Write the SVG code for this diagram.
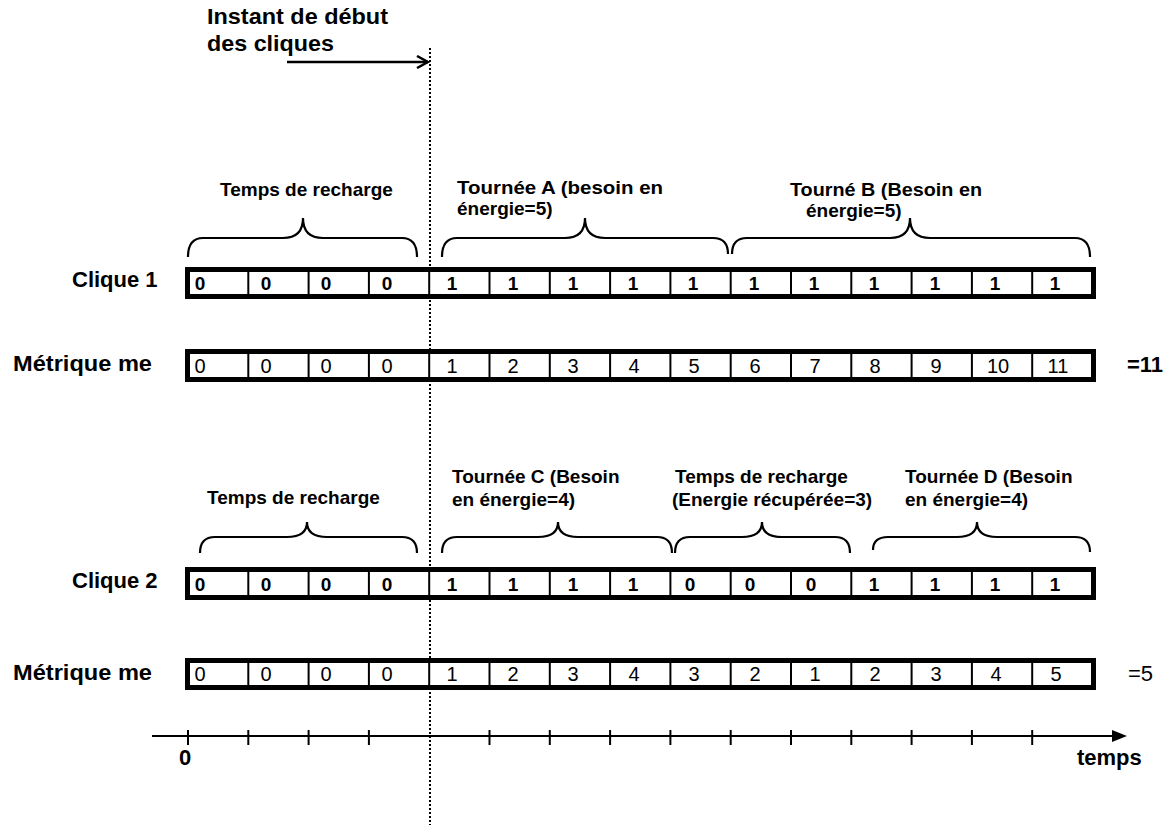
<svg xmlns="http://www.w3.org/2000/svg" width="1170" height="825" viewBox="0 0 1170 825">
<defs>
<style>
.lbl{font-family:"Liberation Sans",Arial,sans-serif;font-weight:bold;font-size:19px;fill:#000}
.big{font-family:"Liberation Sans",Arial,sans-serif;font-weight:bold;font-size:22px;fill:#000}
.dB{font-family:"Liberation Sans",Arial,sans-serif;font-weight:bold;font-size:19px;fill:#000;text-anchor:middle}
.dR{font-family:"Liberation Sans",Arial,sans-serif;font-size:20px;fill:#000;text-anchor:middle}
.reg{font-family:"Liberation Sans",Arial,sans-serif;font-size:22px;fill:#000}
.frame{fill:#fff;stroke:#000;stroke-width:5}
.div{stroke:#000;stroke-width:2}
.brace{fill:none;stroke:#000;stroke-width:2.2}
.axis{stroke:#000;stroke-width:2}
</style>
<marker id="open" markerWidth="14" markerHeight="14" refX="12" refY="7" orient="auto" markerUnits="userSpaceOnUse">
<path d="M1,1 L12,7 L1,13" fill="none" stroke="#000" stroke-width="2.5"/>
</marker>
</defs>
<rect width="1170" height="825" fill="#fff"/>

<g id="title">
<text class="big" x="207" y="24" textLength="181" lengthAdjust="spacingAndGlyphs">Instant de début</text>
<text class="big" x="207" y="51" textLength="127" lengthAdjust="spacingAndGlyphs">des cliques</text>
</g>

<g id="connectors">
<line x1="287" y1="62" x2="428" y2="62" stroke="#000" stroke-width="2.5" marker-end="url(#open)"/>
<line x1="430" y1="48" x2="430" y2="825" stroke="#000" stroke-width="2" stroke-dasharray="2,2"/>
</g>

<g id="braces1">
<path class="brace" d="M188,257 Q188,238 203,238 L283,238 Q303,238 303,218 Q303,238 323,238 L402,238 Q417,238 417,257"/>
<path class="brace" d="M442,257 Q442,238 457,238 L565,238 Q585,238 585,218 Q585,238 605,238 L713,238 Q728,238 728,254"/>
<path class="brace" d="M732,254 Q732,238 747,238 L890,238 Q910,238 910,218 Q910,238 930,238 L1075,238 Q1090,238 1090,257"/>
<text class="lbl" x="220" y="196">Temps de recharge</text>
<text class="lbl" x="457" y="194" textLength="206" lengthAdjust="spacingAndGlyphs">Tournée A (besoin en</text>
<text class="lbl" x="457" y="215">énergie=5)</text>
<text class="lbl" x="790" y="196" textLength="192" lengthAdjust="spacingAndGlyphs">Tourné B (Besoin en</text>
<text class="lbl" x="806" y="217">énergie=5)</text>
</g>

<g id="clique1">
<text class="big" x="72" y="287">Clique 1</text>
<rect class="frame" x="187.5" y="269.5" width="906" height="27"/>
<g class="div">
<line x1="248.3" y1="269" x2="248.3" y2="297"/><line x1="308.6" y1="269" x2="308.6" y2="297"/><line x1="368.9" y1="269" x2="368.9" y2="297"/><line x1="429.2" y1="269" x2="429.2" y2="297"/><line x1="489.5" y1="269" x2="489.5" y2="297"/><line x1="549.8" y1="269" x2="549.8" y2="297"/><line x1="610.1" y1="269" x2="610.1" y2="297"/><line x1="670.4" y1="269" x2="670.4" y2="297"/><line x1="730.7" y1="269" x2="730.7" y2="297"/><line x1="791" y1="269" x2="791" y2="297"/><line x1="851.3" y1="269" x2="851.3" y2="297"/><line x1="911.6" y1="269" x2="911.6" y2="297"/><line x1="971.9" y1="269" x2="971.9" y2="297"/><line x1="1032.2" y1="269" x2="1032.2" y2="297"/>
</g>
<text class="dB" y="290"><tspan x="200">0</tspan><tspan x="266">0</tspan><tspan x="326">0</tspan><tspan x="387">0</tspan><tspan x="452">1</tspan><tspan x="513">1</tspan><tspan x="573">1</tspan><tspan x="633">1</tspan><tspan x="693">1</tspan><tspan x="754">1</tspan><tspan x="814">1</tspan><tspan x="874">1</tspan><tspan x="935">1</tspan><tspan x="995">1</tspan><tspan x="1055">1</tspan></text>
</g>

<g id="metrique1">
<text class="big" x="13" y="371" textLength="139" lengthAdjust="spacingAndGlyphs">Métrique me</text>
<rect class="frame" x="187.5" y="351.5" width="906" height="28"/>
<g class="div">
<line x1="248.3" y1="351" x2="248.3" y2="380"/><line x1="308.6" y1="351" x2="308.6" y2="380"/><line x1="368.9" y1="351" x2="368.9" y2="380"/><line x1="429.2" y1="351" x2="429.2" y2="380"/><line x1="489.5" y1="351" x2="489.5" y2="380"/><line x1="549.8" y1="351" x2="549.8" y2="380"/><line x1="610.1" y1="351" x2="610.1" y2="380"/><line x1="670.4" y1="351" x2="670.4" y2="380"/><line x1="730.7" y1="351" x2="730.7" y2="380"/><line x1="791" y1="351" x2="791" y2="380"/><line x1="851.3" y1="351" x2="851.3" y2="380"/><line x1="911.6" y1="351" x2="911.6" y2="380"/><line x1="971.9" y1="351" x2="971.9" y2="380"/><line x1="1032.2" y1="351" x2="1032.2" y2="380"/>
</g>
<text class="dR" y="373"><tspan x="200">0</tspan><tspan x="266">0</tspan><tspan x="326">0</tspan><tspan x="387">0</tspan><tspan x="452">1</tspan><tspan x="513">2</tspan><tspan x="573">3</tspan><tspan x="634">4</tspan><tspan x="694">5</tspan><tspan x="755">6</tspan><tspan x="815">7</tspan><tspan x="875">8</tspan><tspan x="936">9</tspan><tspan x="998">10</tspan><tspan x="1058">11</tspan></text>
<text class="big" x="1127" y="372">=11</text>
</g>

<g id="braces2">
<path class="brace" d="M200,553 Q200,537 215,537 L287,537 Q307,537 307,522 Q307,537 327,537 L402,537 Q417,537 417,553"/>
<path class="brace" d="M442,553 Q442,537 457,537 L538,537 Q558,537 558,522 Q558,537 578,537 L657,537 Q672,537 672,553"/>
<path class="brace" d="M675,553 Q675,537 690,537 L742,537 Q762,537 762,522 Q762,537 782,537 L835,537 Q850,537 850,553"/>
<path class="brace" d="M873,550 Q873,537 888,537 L957,537 Q977,537 977,522 Q977,537 997,537 L1075,537 Q1090,537 1090,552"/>
<text class="lbl" x="207" y="504">Temps de recharge</text>
<text class="lbl" x="452" y="483">Tournée C (Besoin</text>
<text class="lbl" x="452" y="506">en énergie=4)</text>
<text class="lbl" x="675" y="483">Temps de recharge</text>
<text class="lbl" x="672" y="506">(Energie récupérée=3)</text>
<text class="lbl" x="905" y="483">Tournée D (Besoin</text>
<text class="lbl" x="905" y="506">en énergie=4)</text>
</g>

<g id="clique2">
<text class="big" x="72" y="588">Clique 2</text>
<rect class="frame" x="187.5" y="569.5" width="906" height="28"/>
<g class="div">
<line x1="248.3" y1="569" x2="248.3" y2="598"/><line x1="308.6" y1="569" x2="308.6" y2="598"/><line x1="368.9" y1="569" x2="368.9" y2="598"/><line x1="429.2" y1="569" x2="429.2" y2="598"/><line x1="489.5" y1="569" x2="489.5" y2="598"/><line x1="549.8" y1="569" x2="549.8" y2="598"/><line x1="610.1" y1="569" x2="610.1" y2="598"/><line x1="670.4" y1="569" x2="670.4" y2="598"/><line x1="730.7" y1="569" x2="730.7" y2="598"/><line x1="791" y1="569" x2="791" y2="598"/><line x1="851.3" y1="569" x2="851.3" y2="598"/><line x1="911.6" y1="569" x2="911.6" y2="598"/><line x1="971.9" y1="569" x2="971.9" y2="598"/><line x1="1032.2" y1="569" x2="1032.2" y2="598"/>
</g>
<text class="dB" y="591"><tspan x="200">0</tspan><tspan x="266">0</tspan><tspan x="326">0</tspan><tspan x="387">0</tspan><tspan x="452">1</tspan><tspan x="513">1</tspan><tspan x="573">1</tspan><tspan x="633">1</tspan><tspan x="690">0</tspan><tspan x="750">0</tspan><tspan x="811">0</tspan><tspan x="874">1</tspan><tspan x="935">1</tspan><tspan x="995">1</tspan><tspan x="1055">1</tspan></text>
</g>

<g id="metrique2">
<text class="big" x="13" y="680" textLength="139" lengthAdjust="spacingAndGlyphs">Métrique me</text>
<rect class="frame" x="187.5" y="660.5" width="906" height="27"/>
<g class="div">
<line x1="248.3" y1="660" x2="248.3" y2="688"/><line x1="308.6" y1="660" x2="308.6" y2="688"/><line x1="368.9" y1="660" x2="368.9" y2="688"/><line x1="429.2" y1="660" x2="429.2" y2="688"/><line x1="489.5" y1="660" x2="489.5" y2="688"/><line x1="549.8" y1="660" x2="549.8" y2="688"/><line x1="610.1" y1="660" x2="610.1" y2="688"/><line x1="670.4" y1="660" x2="670.4" y2="688"/><line x1="730.7" y1="660" x2="730.7" y2="688"/><line x1="791" y1="660" x2="791" y2="688"/><line x1="851.3" y1="660" x2="851.3" y2="688"/><line x1="911.6" y1="660" x2="911.6" y2="688"/><line x1="971.9" y1="660" x2="971.9" y2="688"/><line x1="1032.2" y1="660" x2="1032.2" y2="688"/>
</g>
<text class="dR" y="681"><tspan x="200">0</tspan><tspan x="266">0</tspan><tspan x="326">0</tspan><tspan x="387">0</tspan><tspan x="452">1</tspan><tspan x="513">2</tspan><tspan x="573">3</tspan><tspan x="634">4</tspan><tspan x="694">3</tspan><tspan x="755">2</tspan><tspan x="815">1</tspan><tspan x="875">2</tspan><tspan x="936">3</tspan><tspan x="996">4</tspan><tspan x="1056">5</tspan></text>
<text class="reg" x="1128" y="681">=5</text>
</g>

<g id="axis">
<line class="axis" x1="152" y1="736" x2="1115" y2="736"/>
<polygon points="1112,730 1127,736 1112,742" fill="#000"/>
<g class="axis">
<line x1="188" y1="730" x2="188" y2="745"/><line x1="248.3" y1="730" x2="248.3" y2="745"/><line x1="308.6" y1="730" x2="308.6" y2="745"/><line x1="368.9" y1="730" x2="368.9" y2="745"/><line x1="489.5" y1="730" x2="489.5" y2="745"/><line x1="549.8" y1="730" x2="549.8" y2="745"/><line x1="610.1" y1="730" x2="610.1" y2="745"/><line x1="670.4" y1="730" x2="670.4" y2="745"/><line x1="730.7" y1="730" x2="730.7" y2="745"/><line x1="791" y1="730" x2="791" y2="745"/><line x1="851.3" y1="730" x2="851.3" y2="745"/><line x1="911.6" y1="730" x2="911.6" y2="745"/><line x1="971.9" y1="730" x2="971.9" y2="745"/><line x1="1032.2" y1="730" x2="1032.2" y2="745"/>
</g>
<text class="big" x="179" y="765">0</text>
<text class="big" x="1077" y="765">temps</text>
</g>
</svg>
